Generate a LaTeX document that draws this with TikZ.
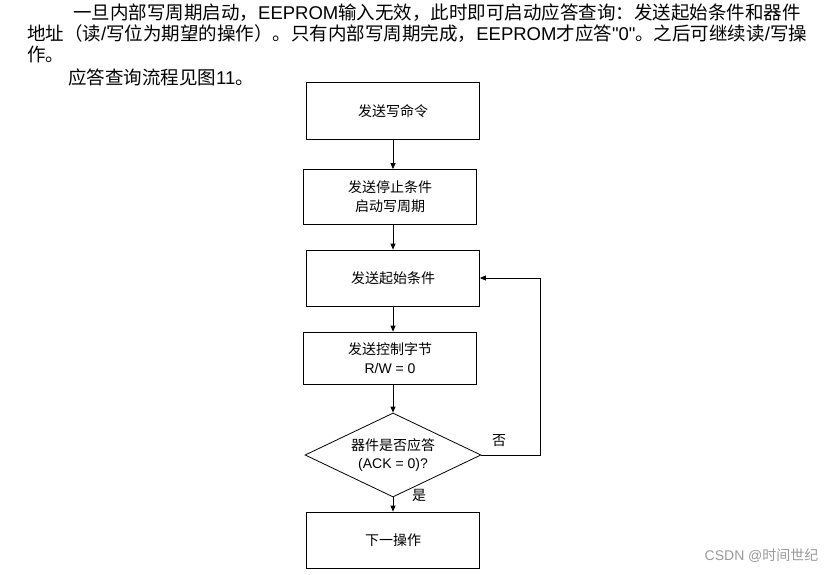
\documentclass[tikz,border=0pt]{standalone}
\usepackage{fontspec}
\setmainfont{Noto Sans CJK SC}
\newfontfamily\lat{Liberation Sans}
\usetikzlibrary{arrows.meta,shapes.geometric}
\begin{document}
\begin{tikzpicture}[x=1pt,y=-1pt,
  box/.style={draw,line width=0.8pt,minimum width=173pt,minimum height=57pt,align=center,font=\fontsize{14}{19}\selectfont},
  dia/.style={draw,diamond,aspect=2.1,line width=0.8pt,minimum width=176pt,minimum height=84pt,inner sep=0pt,align=center,font=\fontsize{14}{18}\selectfont},
  arr/.style={-{Triangle[length=6pt,width=5pt]},line width=0.8pt},
  para/.style={anchor=west,inner sep=0pt,font=\fontsize{18.5}{20}\selectfont}]
\useasboundingbox (0,0) rectangle (835,575);
\node[para] (l1) at (73,13) {一旦内部写周期启动，{\lat EEPROM}输入无效，此时即可启动应答查询：发送起始条件和器件};
\node[para] (l2) at (27,34) {地址（读{\lat /}写位为期望的操作）。只有内部写周期完成，{\lat EEPROM}才应答{\lat "0"}。之后可继续读{\lat /}写操};
\node[para] (l3) at (27,54) {作。};
\node[para] (l4) at (68,77) {应答查询流程见图{\lat 11}。};
\node[box] (b1) at (393,111) {发送写命令};
\node[box,minimum height=55pt] (b2) at (390,197) {发送停止条件\\启动写周期};
\node[box,minimum height=56pt] (b3) at (393,278) {发送起始条件};
\node[box,minimum height=52pt] (b4) at (390,358) {发送控制字节\\{\lat R/W = 0}};
\node[dia] (d) at (393,455) {器件是否应答\\{\lat (ACK = 0)?}};
\node[box,minimum height=56pt] (b5) at (393,540) {下一操作};
\draw[arr] (b1) -- (b1 |- b2.north);
\draw[arr] (b2.south -| b3) -- (b3);
\draw[arr] (b3) -- (b3 |- b4.north);
\draw[arr] (b4.south -| d) -- (d);
\draw[arr] (d) -- (b5);
\coordinate (c1) at (540,455);
\coordinate (c2) at (540,278);
\draw[arr] (d.east) -- (c1) -- (c2) -- (b3.east);
\node[font=\fontsize{14}{15}\selectfont] (no) at (499,441) {否};
\node[font=\fontsize{14}{15}\selectfont] (yes) at (419,495) {是};
\node[font=\fontsize{14}{15}\selectfont,text=gray!80,anchor=east] (wm) at (822,556) {{\lat CSDN @}时间世纪};
\end{tikzpicture}
\end{document}
